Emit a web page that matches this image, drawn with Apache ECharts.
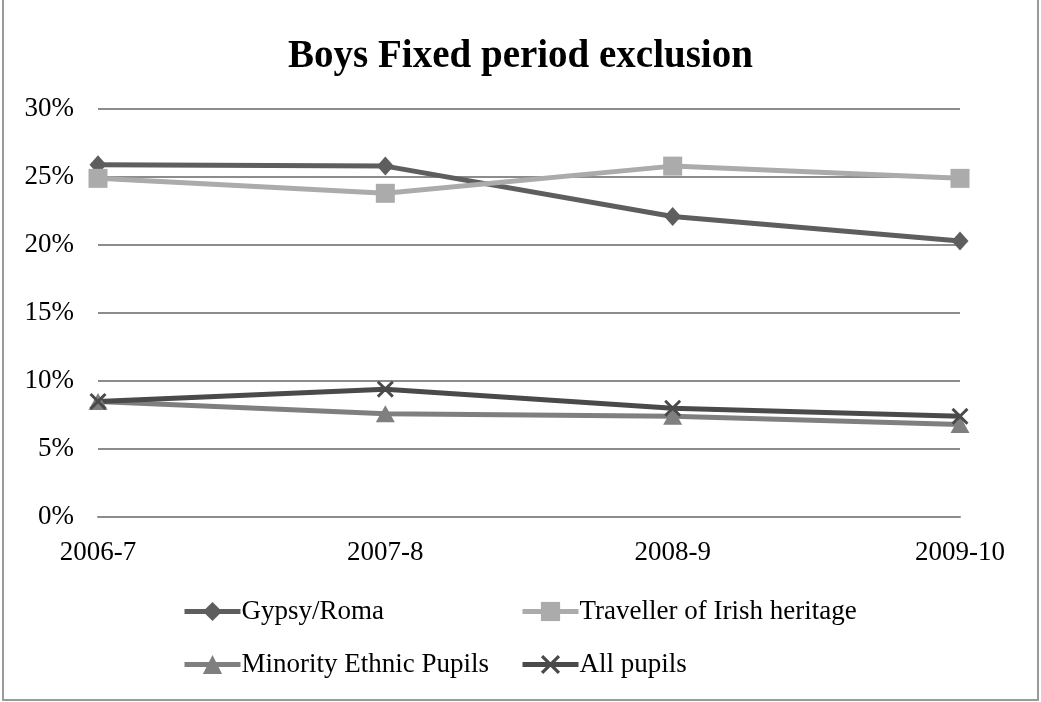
<!DOCTYPE html>
<html>
<head>
<meta charset="utf-8">
<script src="https://cdn.jsdelivr.net/npm/echarts@6/dist/echarts.min.js"></script>
<style>
  html, body { margin: 0; padding: 0; background: #fff; }
  #chart { position: absolute; left: 2px; top: 0; width: 1037px; height: 701px;
           border: 2px solid #9a9a9a; border-top: none; box-sizing: border-box; }
</style>
</head>
<body>
<div id="chart"></div>
<script>
// School years on the category axis
const years = ['2006-7', '2007-8', '2008-9', '2009-10'];

// Fixed period exclusion rates for boys (%)
const gypsyRoma = [25.9, 25.8, 22.1, 20.3];
const travellerIrish = [24.9, 23.8, 25.8, 24.9];
const minorityEthnic = [8.5, 7.6, 7.4, 6.8];
const allPupils = [8.5, 9.4, 8.0, 7.4];

const seriesNames = ['Gypsy/Roma', 'Traveller of Irish heritage', 'Minority Ethnic Pupils', 'All pupils'];

const FONT = '"Liberation Serif", "DejaVu Serif", serif';
const crossPath = 'path://M0,1.2L1.2,0L5,3.8L8.8,0L10,1.2L6.2,5L10,8.8L8.8,10L5,6.2L1.2,10L0,8.8L3.8,5Z';

const chart = echarts.init(document.getElementById('chart'));

function lineSeries(name, data, color, symbol, size) {
  return {
    name: name,
    type: 'line',
    data: data,
    symbol: symbol,
    symbolSize: size,
    showAllSymbol: true,
    lineStyle: { color: color, width: 5 },
    itemStyle: { color: color },
    emphasis: { disabled: true },
    animation: false,
    z: 3
  };
}

const legendBase = {
  orient: 'vertical', top: 593, itemWidth: 56, itemHeight: 24, itemGap: 26,
  lineStyle: { width: 5 },
  textStyle: { fontFamily: FONT, fontSize: 27, color: '#000', padding: [0, 0, 0, -4] }
};

chart.setOption({
  backgroundColor: '#fff',
  title: {
    text: 'Boys Fixed period exclusion',
    left: 'center',
    top: 32,
    textStyle: { fontFamily: FONT, fontWeight: 'bold', fontSize: 39, color: '#000' }
  },
  grid: { left: 94, right: 77, top: 109, bottom: 182, containLabel: false },
  legend: [
    Object.assign({}, legendBase, { left: 173, data: [seriesNames[0], seriesNames[2]] }),
    Object.assign({}, legendBase, { left: 511, data: [seriesNames[1], seriesNames[3]] })
  ],
  xAxis: {
    type: 'category',
    data: years,
    boundaryGap: false,
    axisLine: { show: true, lineStyle: { color: '#8c8c8c', width: 2 } },
    axisTick: { show: false },
    axisLabel: { fontFamily: FONT, fontSize: 27, color: '#000', margin: 22 }
  },
  yAxis: {
    type: 'value',
    min: 0,
    max: 30,
    interval: 5,
    axisLine: { show: false },
    axisTick: { show: false },
    splitLine: { lineStyle: { color: '#8c8c8c', width: 2 } },
    axisLabel: { fontFamily: FONT, fontSize: 27, color: '#000', margin: 24, formatter: '{value}%' }
  },
  series: [
    lineSeries(seriesNames[0], gypsyRoma, '#5e5e5e', 'diamond', [17, 19]),
    lineSeries(seriesNames[1], travellerIrish, '#ababab', 'rect', 19),
    lineSeries(seriesNames[2], minorityEthnic, '#7f7f7f', 'triangle', [19, 17]),
    lineSeries(seriesNames[3], allPupils, '#4a4a4a', crossPath, 17)
  ]
});
</script>
</body>
</html>
